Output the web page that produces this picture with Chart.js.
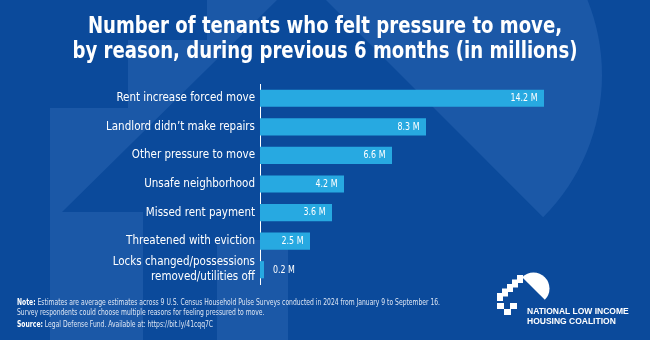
<!DOCTYPE html>
<html>
<head>
<meta charset="utf-8">
<script src="https://cdn.jsdelivr.net/npm/chart.js@4"></script>
<style>
  html, body { margin: 0; padding: 0; background: #0b4a9b; }
  #wrap { position: relative; width: 650px; height: 340px; overflow: hidden; }
  #myChart { position: absolute; left: 0; top: 0; }
  #title { position: absolute; left: 0; top: 13px; width: 650px; text-align: center; color: #fff;
           font-family: "Liberation Sans Narrow", "DejaVu Sans Condensed", sans-serif; font-weight: bold;
           font-size: 23px; line-height: 25px; transform: scaleX(0.875); transform-origin: 325px 0; }
  .note { position: absolute; left: 17px; color: #dde6f4; font-family: "Liberation Sans Narrow", "DejaVu Sans Condensed", sans-serif;
          font-size: 8px; line-height: 1; white-space: nowrap; transform: scaleX(0.84); transform-origin: 0 0; }
  .note b { color: #fff; }
  .org { position: absolute; left: 527px; color: #fff; font-family: "Liberation Sans", Arial, sans-serif; font-weight: bold;
         font-size: 8.5px; line-height: 1; white-space: nowrap; }
</style>
</head>
<body>
<div id="wrap">
  <canvas id="myChart" width="650" height="340"></canvas>
  <div id="title"></div>
  <div class="note" style="top:299px"><b>Note:</b> Estimates are average estimates across 9 U.S. Census Household Pulse Surveys conducted in 2024 from January 9 to September 16.</div>
  <div class="note" style="top:309px">Survey respondents could choose multiple reasons for feeling pressured to move.</div>
  <div class="note" style="top:321px"><b>Source:</b> Legal Defense Fund. Available at: https://bit.ly/41cqq7C</div>
  <div class="org" style="top:307px">NATIONAL LOW INCOME</div>
  <div class="org" style="top:317px">HOUSING COALITION</div>
</div>
<script>
// reasons and counts (millions of tenants)
var reasons = [
  'Rent increase forced move',
  'Landlord didn’t make repairs',
  'Other pressure to move',
  'Unsafe neighborhood',
  'Missed rent payment',
  'Threatened with eviction',
  ['Locks changed/possessions', 'removed/utilities off']
];
var tenants = [14.2, 8.3, 6.6, 4.2, 3.6, 2.5, 0.2];
var titleLines = [
  'Number of tenants who felt pressure to move,',
  'by reason, during previous 6 months (in millions)'
];

document.getElementById('title').innerHTML = titleLines.join('<br>');

var narrow = '"Liberation Sans Narrow", "DejaVu Sans Condensed", sans-serif';
var barColor = '#27a9e1';
var bgColor = '#0b4a9b';
var shapeColor = '#1b58a7';

// background with the big faded house mark
var backdrop = {
  id: 'backdrop',
  beforeDraw: function (chart) {
    var ctx = chart.ctx;
    ctx.save();
    ctx.fillStyle = bgColor;
    ctx.fillRect(0, 0, chart.width, chart.height);
    ctx.fillStyle = shapeColor;
    // sun
    ctx.beginPath();
    ctx.arc(401, 75, 201, -3 * Math.PI / 4, Math.PI / 4);
    ctx.closePath();
    ctx.fill();
    // roof + steps
    ctx.beginPath();
    ctx.moveTo(207, 0);
    ctx.lineTo(277, 0);
    ctx.lineTo(62, 212);
    ctx.lineTo(50, 212);
    ctx.lineTo(50, 108);
    ctx.lineTo(128, 108);
    ctx.lineTo(128, 40);
    ctx.lineTo(207, 40);
    ctx.closePath();
    ctx.fill();
    // blocks
    ctx.fillRect(50, 212, 93, 128);
    ctx.fillRect(217, 240, 71, 100);
    ctx.restore();
  },
  afterDraw: function (chart) {
    // small logo mark
    var ctx = chart.ctx;
    ctx.save();
    ctx.fillStyle = '#fff';
    ctx.beginPath();
    ctx.arc(533.5, 288.5, 16, -3 * Math.PI / 4, Math.PI / 4);
    ctx.closePath();
    ctx.fill();
    for (var k = 0; k < 5; k++) {
      ctx.fillRect(497 + k * 5, 293 - k * 4.5, 6, 8);
    }
    ctx.fillRect(497, 303, 7, 6);
    ctx.fillRect(510, 303, 7, 6);
    ctx.fillRect(504, 309, 7, 6);
    ctx.restore();
  }
};

// value labels at the bar ends
var valueLabels = {
  id: 'valueLabels',
  afterDatasetsDraw: function (chart) {
    var ctx = chart.ctx;
    var meta = chart.getDatasetMeta(0);
    var sx = 0.8;
    ctx.save();
    ctx.font = '11px ' + narrow;
    ctx.fillStyle = '#fff';
    ctx.textBaseline = 'middle';
    meta.data.forEach(function (bar, i) {
      var txt = tenants[i].toFixed(1) + ' M';
      var tw = ctx.measureText(txt).width * sx;
      var w = bar.x - bar.base;
      var x = w > tw + 12 ? bar.x - 6.5 - tw : bar.x + 9;
      ctx.save();
      ctx.translate(x, bar.y);
      ctx.scale(sx, 1);
      ctx.textAlign = 'left';
      ctx.fillText(txt, 0, 0);
      ctx.restore();
    });
    ctx.restore();
  }
};

var ctx = document.getElementById('myChart').getContext('2d');
var chart = new Chart(ctx, {
  type: 'bar',
  data: {
    labels: reasons,
    datasets: [{
      data: tenants,
      backgroundColor: barColor,
      borderWidth: 0,
      barPercentage: 0.6,
      categoryPercentage: 1.0
    }]
  },
  options: {
    indexAxis: 'y',
    responsive: false,
    animation: false,
    layout: { padding: { left: 0, right: 0, top: 84, bottom: 56 } },
    plugins: {
      legend: { display: false },
      tooltip: { enabled: false }
    },
    scales: {
      x: { display: false, min: 0, max: 19.5 },
      y: {
        grid: { display: false, drawTicks: false },
        border: { display: true, color: '#ffffff', width: 1 },
        ticks: {
          color: '#fff',
          padding: 5,
          autoSkip: false,
          font: { family: narrow, size: 11.5, lineHeight: 1.3 }
        },
        afterFit: function (scale) { scale.width = 260; }
      }
    }
  },
  plugins: [backdrop, valueLabels]
});
</script>
</body>
</html>
